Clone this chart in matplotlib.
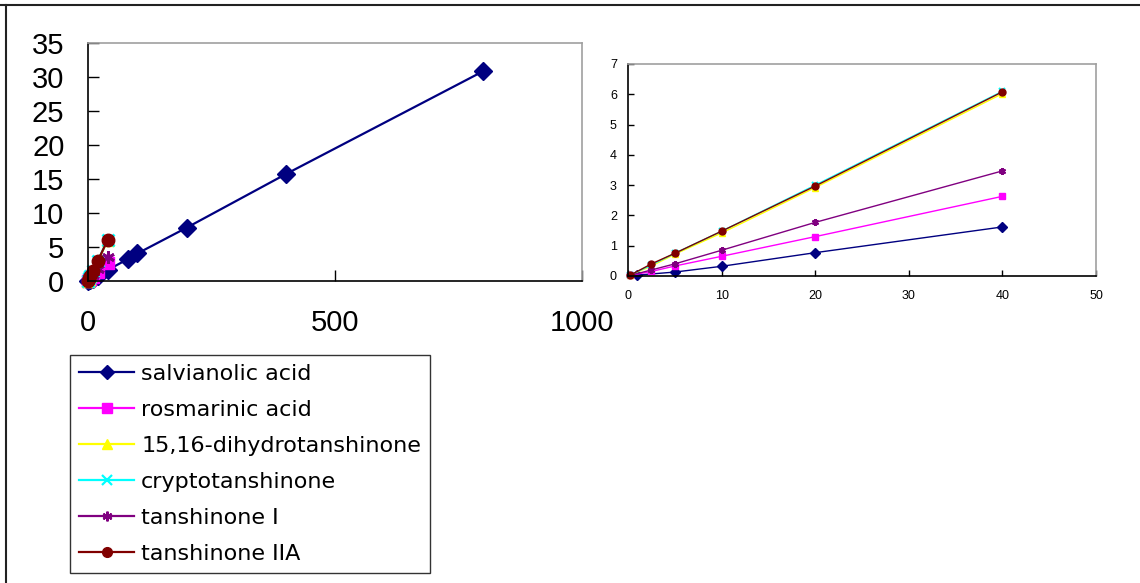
import matplotlib
matplotlib.use("Agg")
import matplotlib.pyplot as plt
from matplotlib.lines import Line2D

plt.rcParams['font.family'] = ['Liberation Sans', 'DejaVu Sans']

# ---- data ----
names = ["salvianolic acid", "rosmarinic acid", "15,16-dihydrotanshinone",
         "cryptotanshinone", "tanshinone I", "tanshinone IIA"]
salv_x = [1, 5, 10, 20, 40, 80, 100, 200, 400, 800]
salv_y = [0.03, 0.13, 0.32, 0.77, 1.62, 3.2, 4.05, 7.85, 15.7, 30.85]
tan_x = [0.25, 2.5, 5, 10, 20, 40]
rosm_y = [0.02, 0.15, 0.33, 0.65, 1.30, 2.63]
dihy_y = [0.03, 0.33, 0.72, 1.42, 2.92, 6.02]
cryp_y = [0.03, 0.37, 0.75, 1.48, 3.00, 6.10]
tan1_y = [0.02, 0.20, 0.40, 0.85, 1.77, 3.47]
tan2_y = [0.03, 0.40, 0.75, 1.48, 2.97, 6.08]

left_xticks = [0, 500, 1000]
left_yticks = [0, 5, 10, 15, 20, 25, 30, 35]
right_xticks = [0, 10, 20, 30, 40, 50]
right_yticks = [0, 1, 2, 3, 4, 5, 6, 7]

colors = ["#000080", "#ff00ff", "#ffff00", "#00ffff", "#800080", "#800000"]
markers = ["D", "s", "^", "x", (6, 2, 0), "o"]

series_full = [(salv_x, salv_y), (tan_x, rosm_y), (tan_x, dihy_y),
               (tan_x, cryp_y), (tan_x, tan1_y), (tan_x, tan2_y)]
series_right = [(salv_x[:5], salv_y[:5]), (tan_x, rosm_y), (tan_x, dihy_y),
                (tan_x, cryp_y), (tan_x, tan1_y), (tan_x, tan2_y)]

fig = plt.figure(figsize=(11.4, 5.83), dpi=100)

# figure frame lines
fig.add_artist(Line2D([0, 1], [1 - 5/583, 1 - 5/583], color="#222222", lw=1.5,
                      transform=fig.transFigure))
fig.add_artist(Line2D([6/1140, 6/1140], [0, 1 - 5/583], color="#222222", lw=1.5,
                      transform=fig.transFigure))


def style_axes(ax):
    for s in ("top", "right"):
        ax.spines[s].set_color("#a0a0a0")
    for s in ("left", "bottom"):
        ax.spines[s].set_color("#000000")
    for s in ax.spines.values():
        s.set_linewidth(1.2)


def edge_w(m, big):
    if m == "x" or isinstance(m, tuple):
        return big
    return 1.0


# ---- left chart ----
axL = fig.add_axes([88/1140, (583-281)/583, (582-88)/1140, (281-43)/583])
for (x, y), c, m, n in zip(series_full, colors, markers, names):
    axL.plot(x, y, color=c, marker=m, markersize=9, lw=1.6,
             markeredgewidth=edge_w(m, 2.0), label=n, clip_on=False)
axL.set_xlim(0, 1000)
axL.set_ylim(0, 35)
axL.set_xticks(left_xticks)
axL.set_yticks(left_yticks)
axL.tick_params(axis="both", direction="in", length=8, width=1, labelsize=21)
axL.tick_params(axis="y", pad=17)
axL.tick_params(axis="x", pad=20)
style_axes(axL)

# ---- right chart ----
axR = fig.add_axes([628/1140, (583-276)/583, (1096-628)/1140, (276-64)/583])
for (x, y), c, m, n in zip(series_right, colors, markers, names):
    axR.plot(x, y, color=c, marker=m, markersize=5, lw=1.0,
             markeredgewidth=edge_w(m, 1.5), clip_on=False)
axR.set_xlim(0, 50)
axR.set_ylim(0, 7)
axR.set_xticks(right_xticks)
axR.set_yticks(right_yticks)
axR.tick_params(axis="both", direction="in", length=4, width=1, labelsize=9)
axR.tick_params(axis="y", pad=8)
axR.tick_params(axis="x", pad=10)
style_axes(axR)

# ---- legend ----
leg_handles = []
for c, m, n in zip(colors, markers, names):
    leg_handles.append(Line2D([], [], color=c, marker=m, markersize=7, lw=1.6,
                              markeredgewidth=edge_w(m, 1.6), label=n))
leg = fig.legend(handles=leg_handles, loc="upper left",
                 bbox_to_anchor=(70/1140, 1 - 355/583),
                 bbox_transform=fig.transFigure,
                 prop={"family": "DejaVu Sans", "size": 16},
                 frameon=True, fancybox=False,
                 edgecolor="#000000", handlelength=2.5, handletextpad=0.3,
                 labelspacing=0.72, borderpad=0.4, borderaxespad=0)
leg.get_frame().set_linewidth(1.0)

fig.savefig("out.png", dpi=100)
